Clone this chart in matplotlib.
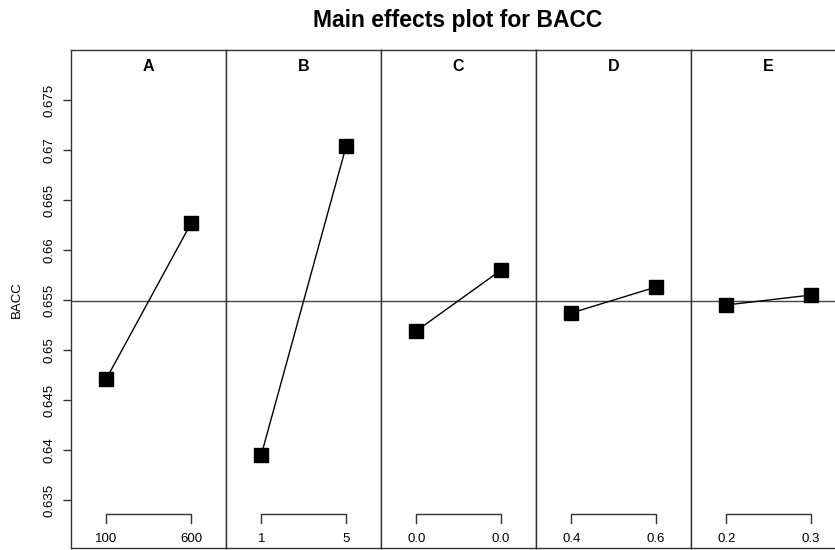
import numpy as np
import matplotlib
matplotlib.use('Agg')
import matplotlib.pyplot as plt

plt.rcParams['font.family'] = ['Liberation Sans', 'DejaVu Sans']

# Factor names, level labels and mean BACC at each level
factors = ['A', 'B', 'C', 'D', 'E']
level_labels = [['100', '600'], ['1', '5'], ['0.0', '0.0'], ['0.4', '0.6'], ['0.2', '0.3']]
level_means = [
    [0.6471, 0.6627],
    [0.6395, 0.6704],
    [0.6519, 0.6580],
    [0.6537, 0.6563],
    [0.6545, 0.6555],
]
grand_mean = 0.6549
y_ticks = [0.635, 0.64, 0.645, 0.65, 0.655, 0.66, 0.665, 0.67, 0.675]
y_tick_labels = ['0.635', '0.64', '0.645', '0.65', '0.655', '0.66', '0.665', '0.67', '0.675']

fig = plt.figure(figsize=(8.35, 5.5), dpi=100)
W, H = 835.0, 550.0
panel_left, panel_w = 71.0, 155.0
panel_top, panel_bottom = 50.0, 548.0

line_col = '#333333'
for i, name in enumerate(factors):
    ax = fig.add_axes([(panel_left + i * panel_w) / W, (H - panel_bottom) / H,
                       panel_w / W, (panel_bottom - panel_top) / H])
    x = np.arange(1, len(level_means[i]) + 1)

    # mean line across all panels
    ax.axhline(grand_mean, color='#444444', lw=1.0, zorder=1)
    ax.plot(x, level_means[i], color='black', lw=1.0, marker='s',
            markersize=9.5, markerfacecolor='black', markeredgecolor='black', zorder=3)

    ax.set_xlim(0.585, 2.41)
    ax.set_ylim(0.6302, 0.680)

    # level bracket along the bottom of each panel
    tr = ax.get_xaxis_transform()
    ax.plot([x[0], x[0], x[-1], x[-1]], [0.0508, 0.0677, 0.0677, 0.0508],
            color='#333333', lw=1.0, transform=tr, clip_on=False)
    for xi, lab in zip(x, level_labels[i]):
        ax.text(xi, 0.0175, lab, transform=tr, ha='center', va='center', fontsize=9.5)

    ax.text(0.5, 0.966, name, transform=ax.transAxes, ha='center', va='center',
            fontsize=11.5, fontweight='bold')

    ax.set_xticks([])
    if i == 0:
        ax.set_yticks(y_ticks)
        ax.set_yticklabels(y_tick_labels)
        ax.tick_params(axis='y', direction='out', length=5.5, width=1.0, color='#333333',
                       labelsize=9.5, labelrotation=90, pad=6)
        for t in ax.get_yticklabels():
            t.set_va('center')
    else:
        ax.set_yticks([])

    for s in ax.spines.values():
        s.set_color(line_col)
        s.set_linewidth(1.0)

fig.text(17 / W, 1 - 300 / H, 'BACC', rotation=90, ha='center', va='center', fontsize=9.5)
fig.text(458 / W, 1 - 21 / H, 'Main effects plot for BACC', ha='center', va='center',
         fontsize=16.5, fontweight='bold')

fig.savefig('out.png', dpi=100)
